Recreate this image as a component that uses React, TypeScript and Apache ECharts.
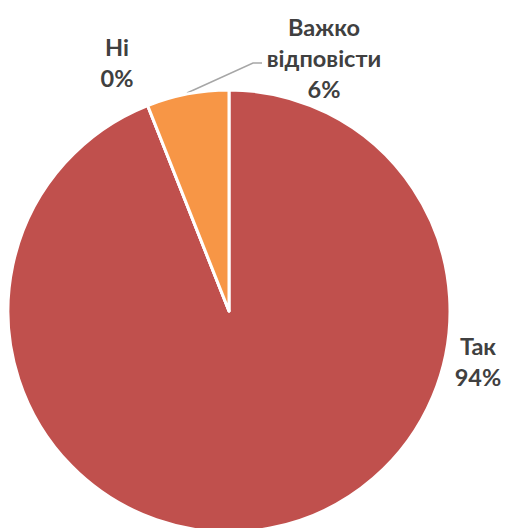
import React, { useEffect, useRef } from "react";
import * as echarts from "echarts";

const categories = ["Так", "Ні", "Важко відповісти"];
const values = [94, 0, 6];
const colors = ["#C0504D", "#C0504D", "#F79646"];

export default function App() {
  const ref = useRef<HTMLDivElement>(null);
  useEffect(() => {
    if (!ref.current) return;
    const chart = echarts.init(ref.current, null, { renderer: "svg" });
    const labelPos: Record<number, any> = {
      0: { x: 478, y: 361 },
      1: { x: 117, y: 62 },
      2: { x: 324, y: 58 },
    };
    chart.setOption({
      animation: false,
      backgroundColor: "#ffffff",
      series: [
        {
          type: "pie",
          center: [229, 311],
          radius: 221,
          startAngle: 90,
          clockwise: true,
          avoidLabelOverlap: false,
          stillShowZeroSum: true,
          itemStyle: { borderColor: "#ffffff", borderWidth: 3 },
          label: {
            show: true,
            position: "outside",
            fontFamily: "Lato",
            fontWeight: "bold",
            fontSize: 23.5,
            lineHeight: 31,
            color: "#404040",
            align: "center",
            formatter: (p: any) => p.name.replace(" ", "\n") + "\n" + p.percent + "%",
          },
          labelLine: { show: false },
          labelLayout: (params: any) => {
            const pos = labelPos[params.dataIndex];
            return { x: pos.x, y: pos.y, align: "center", verticalAlign: "middle" };
          },
          data: categories.map((c, i) => ({
            name: c,
            value: values[i],
            itemStyle: { color: colors[i] },
          })),
        },
      ],
      graphic: [
        {
          type: "polyline",
          shape: { points: [[187, 93], [253, 63], [262, 63]] },
          style: { stroke: "#A6A6A6", lineWidth: 1.5, fill: null },
        },
      ],
    });
    return () => chart.dispose();
  }, []);
  return (
    <div
      ref={ref}
      style={{ position: "fixed", left: 0, top: 0, width: 506, height: 528 }}
    />
  );
}
